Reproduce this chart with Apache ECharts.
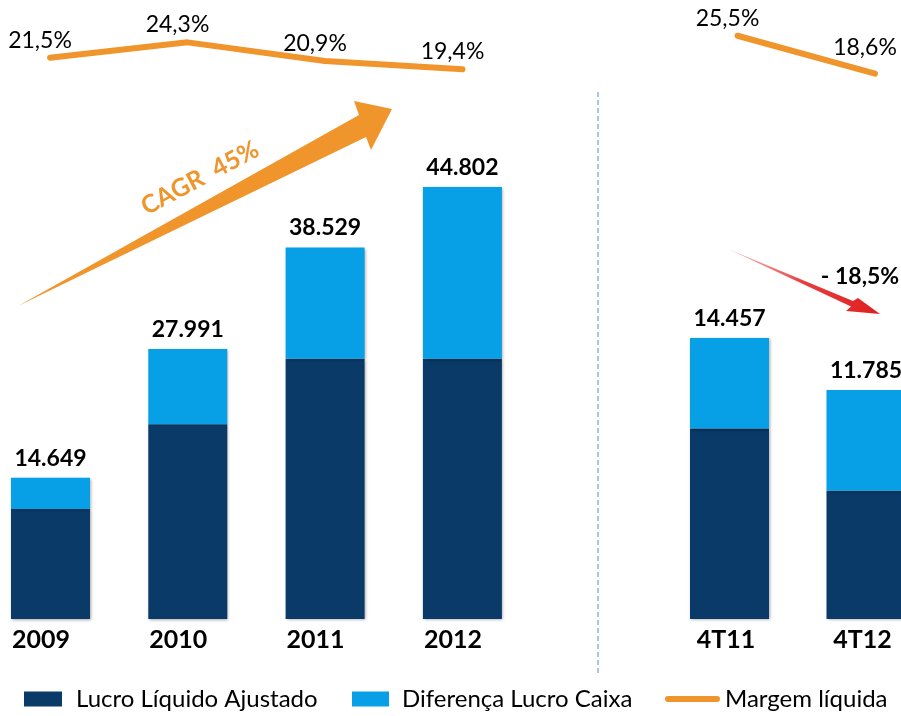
<!DOCTYPE html>
<html>
<head>
<meta charset="utf-8">
<script src="https://cdn.jsdelivr.net/npm/echarts@6/dist/echarts.min.js"></script>
<style>
html,body{margin:0;padding:0;background:#fff;}
#chart{width:901px;height:716px;}
</style>
</head>
<body>
<div id="chart"></div>
<script>
// ---- data ----
const annualCategories = ['2009', '2010', '2011', '2012'];
const quarterCategories = ['4T11', '4T12'];
const annualTotal = [14649, 27991, 38529, 44802];
const annualLucro = [11400, 20200, 27000, 27000];
const quarterTotal = [14457, 11785];
const quarterLucro = [9800, 6600];
const marginCategories = ['2009', '2010', '2011', '2012', '', '4T11', '4T12'];
const marginValues = [21.5, 24.3, 20.9, 19.4, null, 25.5, 18.6];
const cagrText = 'CAGR  45%';
const variationText = '- 18,5%';

const NAME_LUCRO = 'Lucro Líquido Ajustado';
const NAME_DIF = 'Diferença Lucro Caixa';
const NAME_MARGEM = 'Margem líquida';

const DARK = '#0A3A67';
const LIGHT = '#07A0E6';
const ORANGE = '#F0952B';
const FONT = 'Lato';

function fmtThousands(n) {
  return String(n).replace(/\B(?=(\d{3})+(?!\d))/g, '.');
}
function fmtPct(v) {
  return v.toFixed(1).replace('.', ',') + '%';
}

const annualDiff = annualTotal.map((t, i) => t - annualLucro[i]);
const quarterDiff = quarterTotal.map((t, i) => t - quarterLucro[i]);

const chart = echarts.init(document.getElementById('chart'), null, {renderer: 'canvas'});

const barShadow = {shadowBlur: 3, shadowColor: 'rgba(0,0,0,0.35)', shadowOffsetX: 1, shadowOffsetY: 1};

const totalLabel = (totals) => ({
  show: true,
  position: 'top',
  distance: 8,
  fontFamily: FONT,
  fontWeight: 'bold',
  fontSize: 23,
  color: '#000',
  formatter: (p) => fmtThousands(totals[p.dataIndex])
});

const marginData = marginValues.map((v, i) => {
  if (v === null) return '-';
  if (i === marginValues.length - 1) {
    return {value: v, label: {offset: [-10, -9]}};
  }
  return v;
});

const hiddenValueAxis = (grid, max) => ({
  type: 'value', gridIndex: grid, min: 0, max: max, show: false
});

const option = {
  backgroundColor: '#fff',
  animation: false,
  textStyle: {fontFamily: FONT},
  grid: [
    {left: 50.5, width: 411.9, top: 136.9, bottom: 97},
    {left: 729.5, width: 136.5, top: 133.1, bottom: 97},
    {left: 50, width: 825, top: 11, height: 82.5}
  ],
  xAxis: [
    {type: 'category', gridIndex: 0, data: annualCategories, boundaryGap: false,
     axisLine: {show: false}, axisTick: {show: false}, splitLine: {show: false},
     axisLabel: {margin: 8, fontFamily: FONT, fontWeight: 'bold', fontSize: 25, color: '#000', padding: [0, 19, 0, 0]}},
    {type: 'category', gridIndex: 1, data: quarterCategories, boundaryGap: false,
     axisLine: {show: false}, axisTick: {show: false}, splitLine: {show: false},
     axisLabel: {margin: 8, fontFamily: FONT, fontWeight: 'bold', fontSize: 25, color: '#000', padding: [0, 7, 0, 0]}},
    {type: 'category', gridIndex: 2, data: marginCategories, boundaryGap: false, show: false}
  ],
  yAxis: [
    hiddenValueAxis(0, 50000),
    hiddenValueAxis(1, 25000),
    {type: 'value', gridIndex: 2, min: 15, max: 30, show: false}
  ],
  legend: [
    {data: [NAME_LUCRO], left: 24, top: 687, padding: 0, icon: 'rect', itemWidth: 38, itemHeight: 15,
     selectedMode: false, textStyle: {fontFamily: FONT, fontSize: 24, color: '#000', padding: [0, 0, 0, 9]}},
    {data: [NAME_DIF], left: 352, top: 687, padding: 0, icon: 'rect', itemWidth: 37, itemHeight: 15,
     selectedMode: false, textStyle: {fontFamily: FONT, fontSize: 24, color: '#000', padding: [0, 0, 0, 8]}},
    {data: [NAME_MARGEM], left: 665, top: 687, padding: 0,
     icon: 'path://M3,0 H52 A3,3 0 0 1 52,6 H3 A3,3 0 0 1 3,0 Z', itemWidth: 55, itemHeight: 6,
     selectedMode: false, textStyle: {fontFamily: FONT, fontSize: 24, color: '#000'}}
  ],
  series: [
    {name: NAME_LUCRO, type: 'bar', xAxisIndex: 0, yAxisIndex: 0, stack: 'annual', barWidth: 79,
     data: annualLucro, itemStyle: Object.assign({color: DARK}, barShadow)},
    {name: NAME_DIF, type: 'bar', xAxisIndex: 0, yAxisIndex: 0, stack: 'annual', barWidth: 79,
     data: annualDiff, itemStyle: Object.assign({color: LIGHT}, barShadow), label: totalLabel(annualTotal)},
    {name: NAME_LUCRO, type: 'bar', xAxisIndex: 1, yAxisIndex: 1, stack: 'quarter', barWidth: 79,
     data: quarterLucro, itemStyle: Object.assign({color: DARK}, barShadow)},
    {name: NAME_DIF, type: 'bar', xAxisIndex: 1, yAxisIndex: 1, stack: 'quarter', barWidth: 79,
     data: quarterDiff, itemStyle: Object.assign({color: LIGHT}, barShadow), label: totalLabel(quarterTotal)},
    {name: NAME_MARGEM, type: 'line', xAxisIndex: 2, yAxisIndex: 2, data: marginData,
     connectNulls: false, showSymbol: true, symbol: 'circle', symbolSize: 2, color: ORANGE,
     itemStyle: {color: ORANGE},
     lineStyle: {color: ORANGE, width: 6, cap: 'round', join: 'round'},
     label: {show: true, position: 'top', distance: 5, offset: [-10, 0], fontFamily: FONT, fontSize: 23,
             color: '#000', formatter: (p) => fmtPct(p.value)}}
  ],
  graphic: [
    {type: 'line', z: 10, shape: {x1: 598, y1: 92, x2: 598, y2: 674},
     style: {stroke: '#93B3DD', lineWidth: 1.5, lineDash: [5, 3]}},
    {type: 'polygon', z: 10,
     shape: {points: [[18, 306], [359, 115], [354, 101], [392, 109], [371, 150], [366, 137]]},
     style: {fill: ORANGE}},
    {type: 'text', z: 11, x: 200, y: 178, rotation: 28 * Math.PI / 180,
     style: {text: cagrText, fill: ORANGE, font: 'bold 25px Lato', align: 'center', verticalAlign: 'middle'}},
    {type: 'polygon', z: 10,
     shape: {points: [[728, 249], [853, 301], [858, 298], [880, 314], [846, 311], [851, 306.5]]},
     style: {fill: new echarts.graphic.LinearGradient(0, 0, 1, 0, [
       {offset: 0, color: 'rgba(235,70,70,0.35)'},
       {offset: 0.5, color: 'rgba(228,40,40,0.9)'},
       {offset: 1, color: '#E01E1E'}])}},
    {type: 'text', z: 11, x: 860, y: 277,
     style: {text: variationText, fill: '#000', font: 'bold 23px Lato', align: 'center', verticalAlign: 'middle'}}
  ]
};

chart.setOption(option);
</script>
</body>
</html>
